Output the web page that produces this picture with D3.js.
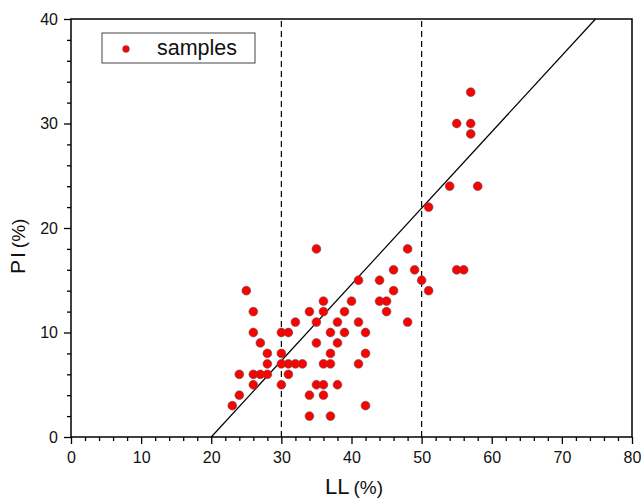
<!DOCTYPE html>
<html><head><meta charset="utf-8">
<script src="https://cdn.jsdelivr.net/npm/d3@7"></script>
<style>body{margin:0;background:#fff}svg{display:block}text{font-family:"Liberation Sans",Arial,sans-serif}</style>
</head><body>
<svg id="c" width="641" height="501"></svg>
<script>
const LL = [23,24,24,25,26,26,26,26,27,27,28,28,28,30,30,30,30,31,31,31,32,33,32,34,34,34,35,35,35,35,36,36,36,36,36,37,37,37,37,38,38,38,39,39,40,41,41,41,42,42,42,44,44,45,45,46,46,48,48,49,50,51,51,54,55,55,56,57,57,57,58];
const PI = [3,4,6,14,12,10,6,5,9,6,8,7,6,10,8,7,5,10,7,6,7,7,11,12,4,2,18,11,9,5,13,12,7,5,4,10,8,7,2,11,9,5,12,10,13,15,11,7,10,8,3,15,13,13,12,16,14,18,11,16,15,14,22,24,30,16,16,33,30,29,24];
const xTicks = [0,10,20,30,40,50,60,70,80];
const yTicks = [0,10,20,30,40];
const dashedLL = [30,50];
const aLine = [[20,0],[20+40/0.73,40]];
const legendLabel = "samples";

const svg = d3.select("#c");
const m = {l:71, r:632, t:19, b:437};
const x = d3.scaleLinear().domain([0,80]).range([m.l,m.r]);
const y = d3.scaleLinear().domain([0,40]).range([m.b,m.t]);

// dashed lines
svg.selectAll(".dash").data(dashedLL).enter().append("line")
  .attr("x1",d=>x(d)).attr("x2",d=>x(d)).attr("y1",y(0)).attr("y2",y(40))
  .attr("stroke","#000").attr("stroke-width",1.2).attr("stroke-dasharray","6,4");

// A-line
svg.append("line").attr("x1",x(aLine[0][0])).attr("y1",y(aLine[0][1]))
  .attr("x2",x(aLine[1][0])).attr("y2",y(aLine[1][1]))
  .attr("stroke","#000").attr("stroke-width",1.2);

// frame
svg.append("rect").attr("x",m.l).attr("y",m.t).attr("width",m.r-m.l).attr("height",m.b-m.t)
  .attr("fill","none").attr("stroke","#000").attr("stroke-width",1.5);

// axes
const xAxis = svg.append("g").attr("transform",`translate(0,${m.b})`)
  .call(d3.axisBottom(x).tickValues(xTicks).tickSize(7).tickPadding(8).tickFormat(d3.format("d")));
const xMinor = svg.append("g").attr("transform",`translate(0,${m.b})`)
  .call(d3.axisBottom(x).tickValues(d3.range(0,81,2).filter(v=>v%10)).tickSize(4).tickFormat(""));
const yAxis = svg.append("g").attr("transform",`translate(${m.l},0)`)
  .call(d3.axisLeft(y).tickValues(yTicks).tickSize(7).tickPadding(6).tickFormat(d3.format("d")));
const yMinor = svg.append("g").attr("transform",`translate(${m.l},0)`)
  .call(d3.axisLeft(y).tickValues(d3.range(0,41,2).filter(v=>v%10)).tickSize(4).tickFormat(""));
[xAxis,xMinor,yAxis,yMinor].forEach(g=>{
  g.select(".domain").remove();
  g.selectAll("line").attr("stroke","#000").attr("stroke-width",1.3);
  g.selectAll("text").attr("font-size",16).attr("fill","#111");
});

// points
svg.selectAll(".pt").data(LL.map((v,i)=>[v,PI[i]])).enter().append("circle")
  .attr("cx",d=>x(d[0])).attr("cy",d=>y(d[1])).attr("r",4.4)
  .attr("fill","#ff0000").attr("stroke","#555").attr("stroke-width",0.6);

// legend
svg.append("rect").attr("x",102).attr("y",33).attr("width",153).attr("height",30)
  .attr("fill","#fff").attr("stroke","#444").attr("stroke-width",1);
svg.append("circle").attr("cx",126).attr("cy",49).attr("r",3.4).attr("fill","#ff0000").attr("stroke","#555").attr("stroke-width",0.5);
svg.append("text").attr("x",157).attr("y",55).attr("font-size",21.5).attr("fill","#111").text(legendLabel);

// axis titles
const xt = svg.append("text").attr("x",325).attr("y",494).attr("fill","#111");
xt.append("tspan").attr("font-size",22).text("LL");
xt.append("tspan").attr("font-size",19).attr("dx",4).text("(%)");
const yt = svg.append("text").attr("transform","translate(25,274) rotate(-90)").attr("fill","#111");
yt.append("tspan").attr("font-size",21).attr("letter-spacing",2).text("PI");
yt.append("tspan").attr("font-size",19).attr("dx",2).text("(%)");
</script>
</body></html>
